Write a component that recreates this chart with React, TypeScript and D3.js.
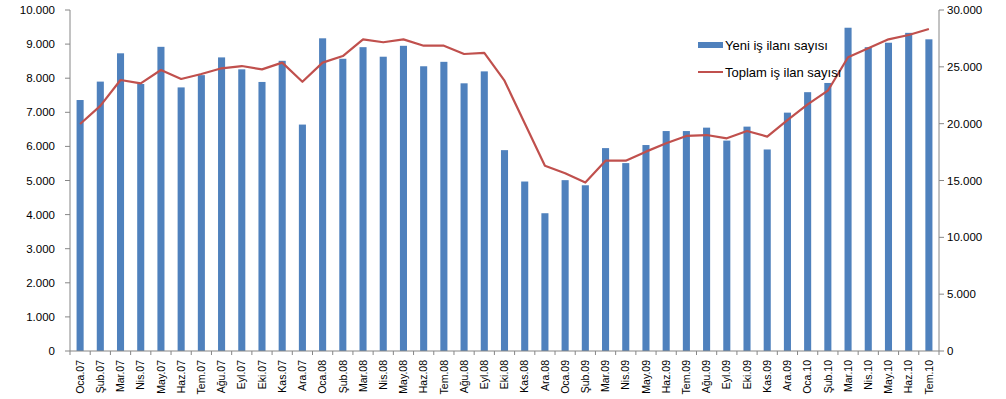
import React from 'react';
import * as d3 from 'd3';

const WIDTH = 1006;
const HEIGHT = 399;

const months = [
  'Oca.07', 'Şub.07', 'Mar.07', 'Nis.07', 'May.07', 'Haz.07', 'Tem.07', 'Ağu.07', 'Eyl.07', 'Eki.07', 'Kas.07', 'Ara.07',
  'Oca.08', 'Şub.08', 'Mar.08', 'Nis.08', 'May.08', 'Haz.08', 'Tem.08', 'Ağu.08', 'Eyl.08', 'Eki.08', 'Kas.08', 'Ara.08',
  'Oca.09', 'Şub.09', 'Mar.09', 'Nis.09', 'May.09', 'Haz.09', 'Tem.09', 'Ağu.09', 'Eyl.09', 'Eki.09', 'Kas.09', 'Ara.09',
  'Oca.10', 'Şub.10', 'Mar.10', 'Nis.10', 'May.10', 'Haz.10', 'Tem.10'
];

// Yeni iş ilanı sayısı (left axis)
const newPostings = [
  7360, 7900, 8730, 7830, 8920, 7730, 8090, 8610, 8260, 7890, 8510, 6640,
  9170, 8570, 8910, 8630, 8950, 8350, 8480, 7850, 8200, 5890, 4970, 4040,
  5010, 4860, 5950, 5510, 6040, 6450, 6450, 6550, 6170, 6580, 5910, 6990,
  7590, 7860, 9480, 8910, 9040, 9330, 9140
];

// Toplam iş ilan sayısı (right axis)
const totalPostings = [
  19970, 21560, 23840, 23550, 24720, 23930, 24370, 24870, 25070, 24780, 25370, 23690,
  25370, 25950, 27420, 27160, 27420, 26860, 26860, 26130, 26220, 23780, 20030, 16300,
  15630, 14820, 16740, 16740, 17540, 18270, 18920, 19000, 18710, 19360, 18860, 20320,
  21700, 22900, 25840, 26630, 27420, 27800, 28330
];

const leftTicks = [0, 1000, 2000, 3000, 4000, 5000, 6000, 7000, 8000, 9000, 10000];
const rightTicks = [0, 5000, 10000, 15000, 20000, 25000, 30000];

const seriesNames = ['Yeni iş ilanı sayısı', 'Toplam iş ilan sayısı'];

const BAR_COLOR = '#4F81BD';
const LINE_COLOR = '#C0504D';
const AXIS_COLOR = '#868686';
const FONT = '"Liberation Sans", Arial, sans-serif';

const fmt = (v: number) => d3.format(',')(v).replace(/,/g, '.');

export default function App() {
  const left = 70;
  const right = 939;
  const top = 10;
  const bottom = 351;

  const x = d3.scaleBand<string>().domain(months).range([left, right]).paddingInner(0.65).paddingOuter(0.325);
  const xEdge = d3.scaleLinear().domain([0, months.length]).range([left, right]);
  const yL = d3.scaleLinear().domain([0, 10000]).range([bottom, top]);
  const yR = d3.scaleLinear().domain([0, 30000]).range([bottom, top]);

  const line = d3.line<number>()
    .x((_, i) => (x(months[i]) as number) + x.bandwidth() / 2)
    .y(d => yR(d));

  return (
    <svg width={WIDTH} height={HEIGHT} style={{ position: 'absolute', left: 0, top: 0 }} fontFamily={FONT}>
      <rect width={WIDTH} height={HEIGHT} fill="#fff" />

      {/* bars */}
      {newPostings.map((v, i) => (
        <rect key={months[i]} x={x(months[i])} y={yL(v)} width={x.bandwidth()}
          height={bottom - yL(v)} fill={BAR_COLOR} />
      ))}

      {/* total line */}
      <path d={line(totalPostings) || ''} fill="none" stroke={LINE_COLOR} strokeWidth={2.2}
        strokeLinejoin="round" />

      {/* left axis */}
      <line x1={left} x2={left} y1={top} y2={bottom} stroke={AXIS_COLOR} />
      {leftTicks.map(t => (
        <g key={t}>
          <line x1={left - 5} x2={left} y1={yL(t)} y2={yL(t)} stroke={AXIS_COLOR} />
          <text x={left - 15} y={yL(t)} dy="0.35em" textAnchor="end" fontSize={11.5} fill="#000">{fmt(t)}</text>
        </g>
      ))}

      {/* right axis */}
      <line x1={right} x2={right} y1={top} y2={bottom} stroke={AXIS_COLOR} />
      {rightTicks.map(t => (
        <g key={t}>
          <line x1={right} x2={right + 5} y1={yR(t)} y2={yR(t)} stroke={AXIS_COLOR} />
          <text x={right + 8} y={yR(t)} dy="0.35em" textAnchor="start" fontSize={11.5} fill="#000">{fmt(t)}</text>
        </g>
      ))}

      {/* x axis */}
      <line x1={left} x2={right} y1={bottom} y2={bottom} stroke={AXIS_COLOR} />
      {d3.range(months.length + 1).map(i => (
        <line key={i} x1={xEdge(i)} x2={xEdge(i)} y1={bottom} y2={bottom + 4} stroke={AXIS_COLOR} />
      ))}
      {months.map(m => {
        const cx = (x(m) as number) + x.bandwidth() / 2;
        return (
          <text key={m} transform={`translate(${cx},${bottom + 9}) rotate(-90)`} textAnchor="end"
            dy="0.35em" fontSize={10.5} fill="#000">{m}</text>
        );
      })}

      {/* legend */}
      <rect x={698} y={42} width={25} height={6} fill={BAR_COLOR} />
      <text x={725} y={45} dy="0.35em" fontSize={13} fill="#000">{seriesNames[0]}</text>
      <line x1={698} x2={723} y1={72} y2={72} stroke={LINE_COLOR} strokeWidth={2} />
      <text x={725} y={72} dy="0.35em" fontSize={13} fill="#000">{seriesNames[1]}</text>
    </svg>
  );
}
